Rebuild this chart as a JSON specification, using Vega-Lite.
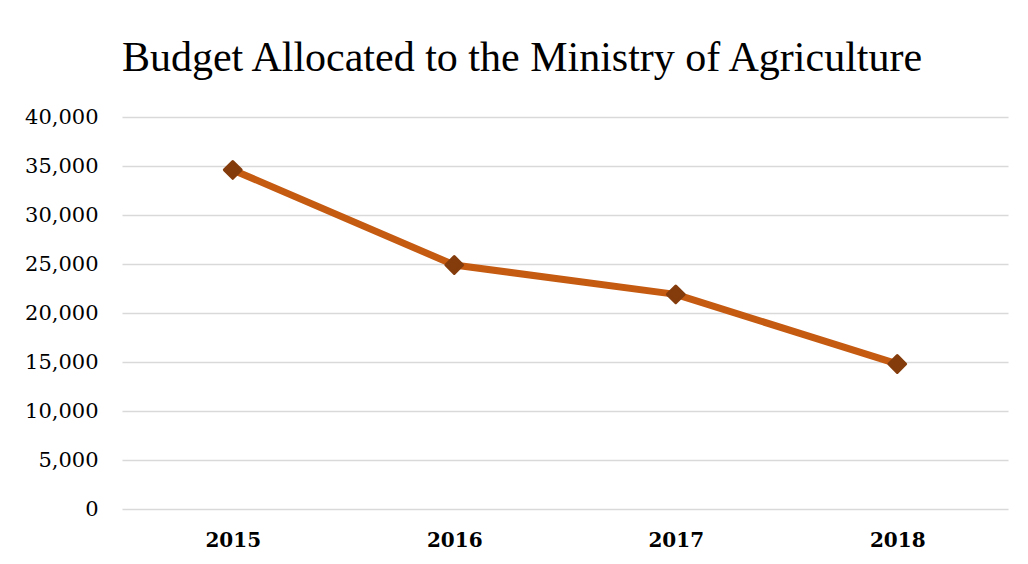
{
  "$schema": "https://vega.github.io/schema/vega-lite/v6.json",
  "autosize": {"type": "none"},
  "width": 886,
  "height": 392,
  "padding": {"left": 122, "top": 117, "right": 20, "bottom": 55},
  "background": "white",
  "config": {"view": {"stroke": null}},
  "title": {
    "text": "Budget Allocated to the Ministry of Agriculture",
    "font": "Liberation Serif",
    "fontSize": 42,
    "fontWeight": "normal",
    "color": "#000000",
    "anchor": "middle",
    "dx": -43,
    "offset": 26
  },
  "data": {
    "values": [
      {"year": "2015", "budget": 34600},
      {"year": "2016", "budget": 24900},
      {"year": "2017", "budget": 21900},
      {"year": "2018", "budget": 14800}
    ]
  },
  "encoding": {
    "x": {
      "field": "year",
      "type": "ordinal",
      "scale": {"type": "point", "padding": 0.5},
      "axis": {
        "title": null,
        "labelAngle": 0,
        "domain": false,
        "ticks": false,
        "labelFont": "DejaVu Serif",
        "labelFontWeight": "bold",
        "labelFontSize": 20,
        "labelColor": "#000000",
        "labelPadding": 21
      }
    },
    "y": {
      "field": "budget",
      "type": "quantitative",
      "scale": {"domain": [0, 40000], "nice": false},
      "axis": {
        "title": null,
        "values": [0, 5000, 10000, 15000, 20000, 25000, 30000, 35000, 40000],
        "format": ",d",
        "domain": false,
        "ticks": false,
        "grid": true,
        "gridColor": "#d9d9d9",
        "gridWidth": 1.5,
        "labelFont": "DejaVu Serif",
        "labelFontSize": 21,
        "labelColor": "#000000",
        "labelPadding": 24
      }
    }
  },
  "layer": [
    {
      "mark": {"type": "line", "color": "#C55A11", "strokeWidth": 7, "strokeJoin": "round"}
    },
    {
      "mark": {"type": "point", "shape": "diamond", "size": 280, "filled": true, "color": "#843C0C", "opacity": 1, "stroke": "#843C0C", "strokeWidth": 3, "strokeJoin": "round"}
    }
  ]
}
